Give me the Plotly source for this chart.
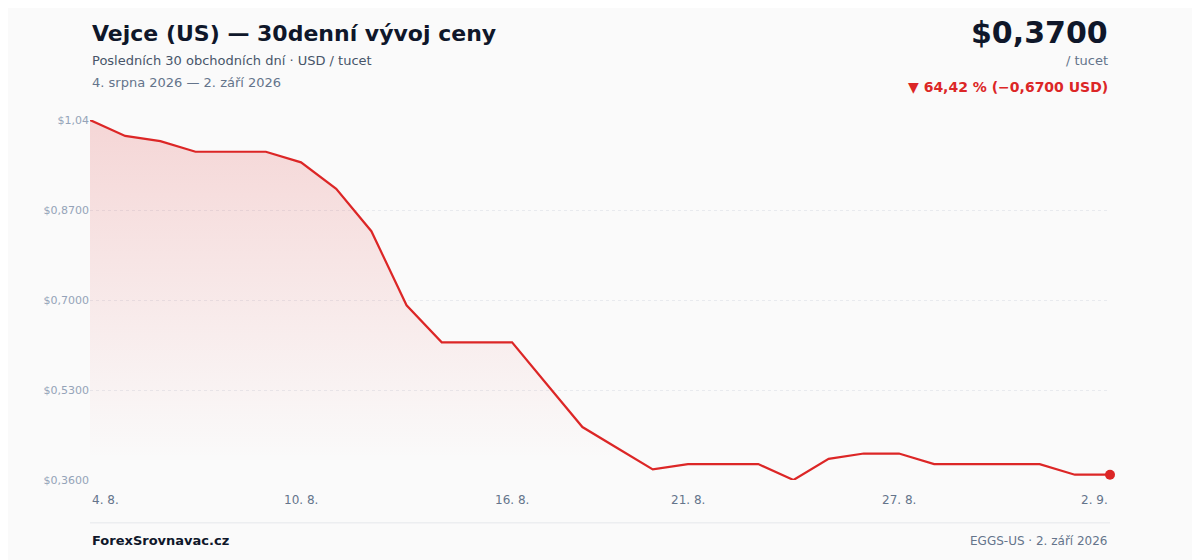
import plotly.graph_objects as go

dates = ["4. 8.", "5. 8.", "6. 8.", "7. 8.", "8. 8.", "9. 8.", "10. 8.", "11. 8.", "12. 8.", "13. 8.",
         "14. 8.", "15. 8.", "16. 8.", "17. 8.", "18. 8.", "19. 8.", "20. 8.", "21. 8.", "22. 8.", "23. 8.",
         "24. 8.", "25. 8.", "26. 8.", "27. 8.", "28. 8.", "29. 8.", "30. 8.", "31. 8.", "1. 9.", "2. 9."]
prices = [1.04, 1.01, 1.00, 0.98, 0.98, 0.98, 0.96, 0.91, 0.83, 0.69,
          0.62, 0.62, 0.62, 0.54, 0.46, 0.42, 0.38, 0.39, 0.39, 0.39,
          0.36, 0.40, 0.41, 0.41, 0.39, 0.39, 0.39, 0.39, 0.37, 0.37]
tick_vals = [1.04, 0.87, 0.70, 0.53, 0.36]
tick_text = ["$1,04", "$0,8700", "$0,7000", "$0,5300", "$0,3600"]
label_dates = ["4. 8.", "10. 8.", "16. 8.", "21. 8.", "27. 8.", "2. 9."]

RED = "#dc2626"
FONT = "DejaVu Sans"

fig = go.Figure()
fig.add_trace(go.Scatter(
    x=dates, y=prices, mode="lines", line=dict(color=RED, width=2.2),
    fill="tozeroy",
    fillgradient=dict(type="vertical", start=0.40, stop=1.04,
                      colorscale=[[0, "rgba(220,38,38,0)"], [1, "rgba(220,38,38,0.17)"]]),
    hoverinfo="skip", showlegend=False))
fig.add_trace(go.Scatter(x=[dates[-1]], y=[prices[-1]], mode="markers", cliponaxis=False,
                         marker=dict(color=RED, size=10), showlegend=False))

anns = []
for i, d in enumerate(label_dates):
    anchor = "left" if i == 0 else ("right" if i == len(label_dates) - 1 else "center")
    anns.append(dict(x=d, y=-0.055, xref="x", yref="paper", text=d, showarrow=False,
                     xanchor=anchor, yanchor="middle", font=dict(size=12, color="#64748b")))

def txt(x, y, t, size, color, xa="left", bold=False):
    anns.append(dict(x=x, y=y, xref="paper", yref="paper", text=f"<b>{t}</b>" if bold else t,
                     showarrow=False, xanchor=xa, yanchor="middle", font=dict(size=size, color=color)))

txt(0, 1.239, "Vejce (US) — 30denní vývoj ceny", 22, "#0f172a", bold=True)
txt(0, 1.164, "Posledních 30 obchodních dní · USD / tucet", 13, "#475569")
txt(0, 1.103, "4. srpna 2026 — 2. září 2026", 13, "#64748b")
txt(1, 1.244, "$0,3700", 30, "#0f172a", "right", bold=True)
txt(1, 1.164, "/ tucet", 13, "#64748b", "right")
txt(1, 1.092, "▼ 64,42 % (−0,6700 USD)", 14, RED, "right", bold=True)
txt(0, -0.169, "ForexSrovnavac.cz", 13, "#0f172a", bold=True)
txt(1, -0.169, "EGGS-US · 2. září 2026", 12, "#64748b", "right")

fig.update_layout(
    width=1200, height=560, margin=dict(l=82, r=98, t=112, b=88),
    paper_bgcolor="#fafafa", plot_bgcolor="#fafafa",
    font=dict(family=FONT), annotations=anns,
    shapes=[dict(type="line", xref="paper", yref="paper", x0=0, x1=1, y0=-0.119, y1=-0.119,
                 line=dict(color="#e5e7eb", width=1))],
    xaxis=dict(type="category", showticklabels=False, showgrid=False, zeroline=False,
               range=[0, len(dates) - 1]),
    yaxis=dict(range=[0.36, 1.04], tickvals=tick_vals, ticktext=tick_text,
               tickfont=dict(size=11, color="#94a3b8"), gridcolor="#e8eaee", griddash="dot",
               zeroline=False, showline=False),
)
fig.write_html("out.html")
